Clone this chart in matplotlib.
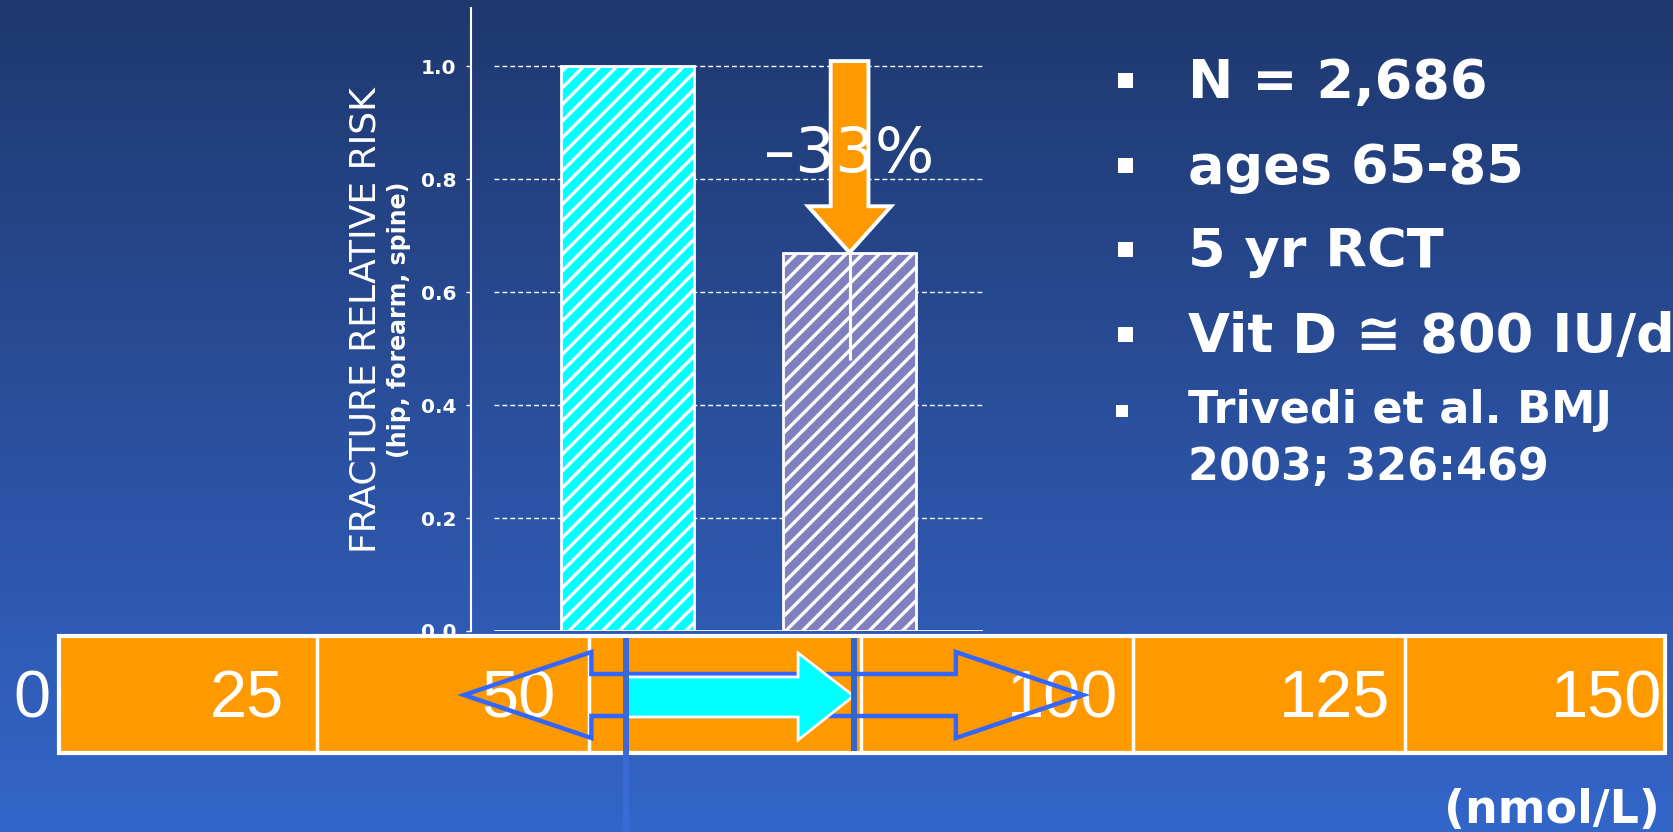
import numpy as np
import matplotlib
matplotlib.use("Agg")
import matplotlib.pyplot as plt
from matplotlib.patches import Rectangle, Polygon
from matplotlib.colors import LinearSegmentedColormap

# data
groups = ["Placebo", "Vit D"]
relative_risk = [1.0, 0.67]
vitd_ci = (0.48, 0.93)
reduction_label = "\u201333%"
risk_ticks = [0.0, 0.2, 0.4, 0.6, 0.8, 1.0]
scale_ticks = [0, 25, 50, 75, 100, 125, 150]
serum_levels = [53.4, 74.3]      # nmol/L, placebo vs vit D
range_arrow = [38.5, 95.4]       # outlined double arrow ends, nmol/L
bullets = ["N = 2,686", "ages 65-85", "5 yr RCT", "Vit D \u2245 800 IU/d"]
ref_lines = ["Trivedi et al. BMJ", "2003; 326:469"]

W, H = 1673, 832
ORANGE = "#ff9900"
CYAN = "#00ffff"
PURPLE = "#8080c0"
BLUE = "#3366ff"
plt.rcParams["hatch.linewidth"] = 2.4
plt.rcParams["font.family"] = "DejaVu Sans"

fig = plt.figure(figsize=(W / 100, H / 100), dpi=100)

# background gradient
bg = fig.add_axes([0, 0, 1, 1], zorder=0)
cmap = LinearSegmentedColormap.from_list("bg", ["#1f386e", "#2a4f9c", "#3366c9"])
bg.imshow(np.linspace(0, 1, 256)[:, None], aspect="auto", cmap=cmap, extent=[0, 1, 0, 1])
bg.set_axis_off()

# bar chart
ax = fig.add_axes([471 / W, 1 - 631 / H, (983 - 471) / W, (631 - 8) / H], zorder=1)
ax.patch.set_alpha(0)
x = np.arange(len(groups))
ax.set_xlim(-0.705, 1.601)
ax.set_ylim(0, 1.103)
for s in ["top", "right", "bottom"]:
    ax.spines[s].set_visible(False)
ax.spines["left"].set_color("white")
ax.spines["left"].set_linewidth(1.5)
ax.set_xticks([])
ax.set_yticks(risk_ticks)
ax.set_yticklabels([f"{t:.1f}" for t in risk_ticks], color="white", fontsize=14.5, fontweight="bold")
ax.tick_params(axis="y", colors="white", length=3.6, width=1, pad=7)

ax.hlines(risk_ticks[1:], -0.601, 1.601, colors="white", linewidth=1, linestyles=(0, (3.5, 2.2)), zorder=1)
ax.hlines(0, -0.601, 1.601, colors="white", linewidth=2, zorder=3)

ax.bar(x, relative_risk, width=0.6, color=[CYAN, PURPLE], edgecolor="white",
       linewidth=2, hatch="//", zorder=2)
ax.vlines(x[1], vitd_ci[0], vitd_ci[1], colors="white", linewidth=2.2, zorder=3)
ax.arrow(x[1], 1.009, 0, relative_risk[1] - 1.009, width=0.17, head_width=0.374,
         head_length=0.082, length_includes_head=True, fc=ORANGE, ec="white", lw=2.8, zorder=4)
ax.text(x[1], 0.812, reduction_label, ha="center", va="baseline", color="white",
        fontsize=45, zorder=5)

fig.text(365 / W, 1 - 320 / H, "FRACTURE RELATIVE RISK", rotation=90, ha="center",
         va="center", color="white", fontsize=26)
fig.text(399 / W, 1 - 320 / H, "(hip, forearm, spine)", rotation=90, ha="center",
         va="center", color="white", fontsize=17, fontweight="bold")

# serum 25(OH)D scale (x in nmol/L, y in pixel rows)
sc = fig.add_axes([0, 0, 1, 1], zorder=2)
sc.patch.set_alpha(0)
sc.set_xlim(-45.2 / 10.88, (W - 45.2) / 10.88)
sc.set_ylim(H, 0)
sc.set_axis_off()

box_l, box_r = 1.3, 148.9
sc.add_patch(Rectangle((box_l, 636), box_r - box_l, 117, fc=ORANGE, ec="white", lw=3, zorder=1))
sc.vlines(scale_ticks[1:-1], 636, 753, colors="white", linewidth=2.5, zorder=2)
for t in scale_ticks:
    sc.text(t - 6.5 if t else t - 1.2, 718, str(t), ha="center", va="baseline", color="white",
            fontsize=48, family="Liberation Sans", zorder=3)

# outlined double arrow (range)
hl = 11.7
a0, a1 = range_arrow
dbl = [(a0, 695), (a0 + hl, 652), (a0 + hl, 674), (a1 - hl, 674), (a1 - hl, 652), (a1, 695),
       (a1 - hl, 738), (a1 - hl, 716), (a0 + hl, 716), (a0 + hl, 738)]
sc.add_patch(Polygon(dbl, closed=True, fill=False, ec=BLUE, lw=3.2, zorder=4))

# cyan arrow: placebo -> vit D level
p, v = serum_levels
head = 5.1
cyan = [(p, 677), (v - head, 677), (v - head, 653), (v, 696), (v - head, 740), (v - head, 717), (p, 717)]
sc.add_patch(Polygon(cyan, closed=True, fc=CYAN, ec="white", lw=2, zorder=5))

sc.vlines(serum_levels[0], 638, H, colors="#3a6ad6", linewidth=4.3, zorder=6)
sc.vlines(serum_levels[1], 638, 751, colors="#3366cc", linewidth=4.3, zorder=6)

# text panel (pixel coords)
ov = fig.add_axes([0, 0, 1, 1], zorder=3)
ov.patch.set_alpha(0)
ov.set_xlim(0, W)
ov.set_ylim(H, 0)
ov.set_axis_off()

baselines = [98, 183, 267, 352]
for txt, b in zip(bullets, baselines):
    ov.add_patch(Rectangle((1118, b - 25), 15, 15, fc="white", ec="none"))
    ov.text(1188, b, txt, ha="left", va="baseline", color="white", fontsize=39, fontweight="bold")
ov.add_patch(Rectangle((1116, 405), 12, 12, fc="white", ec="none"))
for txt, b in zip(ref_lines, [423, 480]):
    ov.text(1188, b, txt, ha="left", va="baseline", color="white", fontsize=32, fontweight="bold")

ov.text(1660, 823, "(nmol/L)", ha="right", va="baseline", color="white", fontsize=33, fontweight="bold")

fig.savefig("out.png", dpi=100)
